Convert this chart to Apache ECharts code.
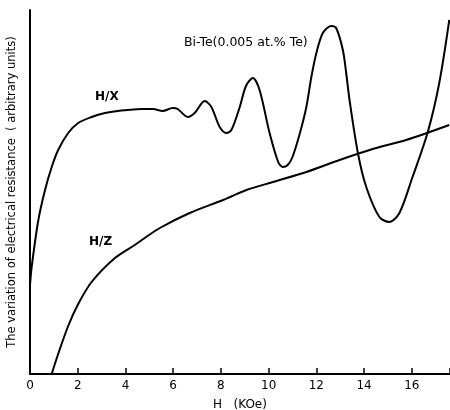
<!DOCTYPE html>
<html>
<head>
<meta charset="utf-8">
<script src="https://cdn.jsdelivr.net/npm/echarts@6/dist/echarts.min.js"></script>
<style>
  html, body { margin: 0; padding: 0; background: #fff; }
  #chart { width: 450px; height: 410px; }
</style>
</head>
<body>
<div id="chart"></div>
<script>
// field H (kOe) vs resistance (arbitrary units)
var hX = [0, 0.07, 0.35, 0.63, 0.91, 1.18, 1.6, 2.02, 2.58, 3.14, 3.68, 4.67, 5.15, 5.56, 5.98, 6.19, 6.61, 6.9, 7.32, 7.6, 7.95, 8.23, 8.44, 8.79, 9.05, 9.34, 9.62, 10.04, 10.4, 10.59, 10.8, 11.0, 11.3, 11.58, 11.79, 12.0, 12.27, 12.62, 12.83, 13.11, 13.25, 13.39, 13.74, 14.09, 14.64, 15.06, 15.48, 16.03, 16.67, 17.15, 17.57];
var rX = [89, 107, 154, 184, 207, 224, 241, 251, 257, 261, 263, 265, 265, 263, 266, 265, 257, 261, 273, 267, 247, 241, 244, 267, 288, 296, 284, 241, 212, 207, 209, 217, 240, 267, 297, 321, 341, 348, 346, 324, 301, 274, 221, 187, 157, 152, 161, 197, 242, 291, 354];

var hZ = [0.91, 1.18, 1.6, 2.02, 2.58, 3.56, 4.39, 4.81, 5.44, 6.69, 8.09, 9.07, 10.18, 11.58, 12.97, 14.36, 15.76, 17.57];
var rZ = [0, 20, 48, 70, 92, 116, 129, 136, 146, 161, 174, 184, 192, 202, 214, 225, 234, 249];

var xTicks = [0, 2, 4, 6, 8, 10, 12, 14, 16];

function pairs(xs, ys) {
  var out = [];
  for (var i = 0; i < xs.length; i++) out.push([xs[i], ys[i]]);
  return out;
}

var chart = echarts.init(document.getElementById('chart'));
var font = 'DejaVu Sans';
var option = {
  animation: false,
  grid: { left: 30, right: 0, top: 10, bottom: 36, outerBoundsMode: 'none' },
  xAxis: {
    type: 'value',
    min: 0,
    max: 17.6,
    interval: 2,
    name: 'H   (KOe)',
    nameLocation: 'middle',
    nameGap: 25,
    nameTextStyle: { color: '#000', fontFamily: font, fontSize: 12 },
    axisLine: { lineStyle: { color: '#000', width: 2 } },
    axisTick: { inside: true, length: 6, lineStyle: { color: '#000', width: 1.5 } },
    axisLabel: {
      color: '#000', fontFamily: font, fontSize: 12, margin: 6,
      formatter: function (v) { return xTicks.indexOf(v) >= 0 ? String(v) : ''; }
    },
    splitLine: { show: false }
  },
  yAxis: {
    type: 'value',
    min: 0,
    max: 364,
    name: 'The variation of electrical resistance  ( arbitrary units)',
    nameLocation: 'middle',
    nameGap: 12,
    nameTextStyle: { color: '#000', fontFamily: font, fontSize: 11.5 },
    axisLine: { show: true, lineStyle: { color: '#000', width: 2 } },
    axisTick: { show: false },
    axisLabel: { show: false },
    splitLine: { show: false }
  },
  series: [
    {
      name: 'H/X',
      type: 'line',
      data: pairs(hX, rX),
      smooth: 0.3,
      showSymbol: false,
      lineStyle: { color: '#000', width: 2 }
    },
    {
      name: 'H/Z',
      type: 'line',
      data: pairs(hZ, rZ),
      smooth: 0.3,
      showSymbol: false,
      lineStyle: { color: '#000', width: 2 }
    }
  ],
  graphic: [
    { type: 'text', left: 95, top: 91, style: { text: 'H/X', fill: '#000', font: 'bold 12px ' + font } },
    { type: 'text', left: 89, top: 236, style: { text: 'H/Z', fill: '#000', font: 'bold 12px ' + font } },
    { type: 'text', left: 184, top: 36, style: { text: 'Bi-Te(0.005 at.% Te)', fill: '#000', font: '12.5px ' + font } }
  ]
};
chart.setOption(option);
</script>
</body>
</html>
